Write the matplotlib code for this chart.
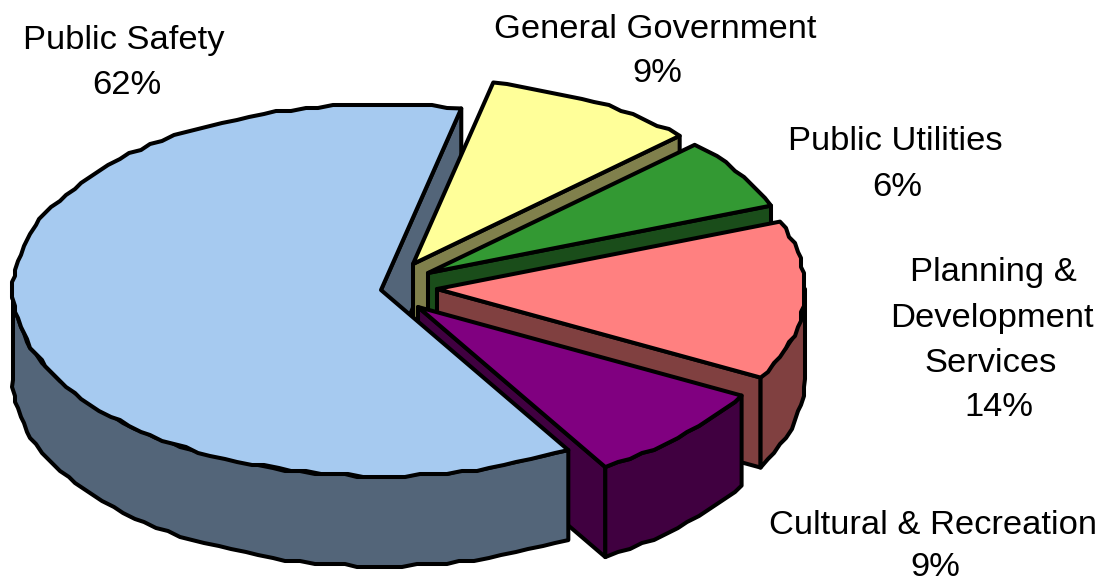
import numpy as np
import matplotlib
matplotlib.use("Agg")
import matplotlib.pyplot as plt

categories = ["Public Safety", "General Government", "Public Utilities",
              "Planning & Development Services", "Cultural & Recreation"]
shares = [62.0, 9.4, 6.2, 13.8, 8.6]
top_colors = ["#A6CAF0", "#FFFF99", "#339933", "#FF8080", "#800080"]
side_colors = ["#536579", "#80804C", "#1A4D1A", "#804040", "#400040"]

# центр пирога, радиусы эллипса и высота в пикселях
cx, cy = 381, 290
rx, ry = 368, 186
depth = 90
start_angle = 149.4  # градусы по часовой от севера
shift = [(0, 0), (32, -26), (47, -17), (56, -1), (37, 17)]
grid = 3  # ступеньки по дуге, как в оригинале
line = 2.9

fig = plt.figure(figsize=(11.05, 5.83), dpi=100)
ax = fig.add_axes([0, 0, 1, 1])
ax.set_xlim(0, 1105)
ax.set_ylim(583, 0)
ax.axis("off")


def arc(i, a0, a1, step=2.2):
    n = max(int(abs(a1 - a0) / step), 2)
    t = np.radians(np.linspace(a0, a1, n))
    x0 = cx + shift[i][0] + rx * np.sin(t)
    y0 = cy + shift[i][1] - ry * np.cos(t)
    x = np.round(x0 / grid) * grid
    y = np.round(y0 / grid) * grid
    x[[0, -1]] = x0[[0, -1]]
    y[[0, -1]] = y0[[0, -1]]
    return np.column_stack([x, y])


def fill(points, color):
    ax.fill(points[:, 0], points[:, 1], facecolor=color, edgecolor="black",
            linewidth=line, joinstyle="round")


def apex(i, down=0):
    return np.array([[cx + shift[i][0], cy + shift[i][1] + down]])


def edge_face(i, angle):
    # плоская грань вдоль радиуса, свисает вниз
    a = arc(i, angle, angle + 0.01)[:1]
    fill(np.vstack([apex(i), a, a + [0, depth], apex(i, depth)]), side_colors[i])


def outer_wall(i, a0, a1):
    top = arc(i, a0, a1)
    fill(np.vstack([top, top[::-1] + [0, depth]]), side_colors[i])


def top_face(i, a0, a1):
    fill(np.vstack([apex(i), arc(i, a0, a1)]), top_colors[i])


# углы срезов считаем из долей
ends = start_angle + np.cumsum(shares) * 3.6
starts = ends - np.array(shares) * 3.6

# грань синего сектора сзади, потом остальные от дальнего к ближнему
edge_face(0, ends[0] % 360)
for i in [1, 2, 3, 4]:
    a0, a1 = starts[i] % 360, (ends[i] - 1e-6) % 360
    edge_face(i, a1)
    if a1 > 90:
        outer_wall(i, max(a0, 90), a1)
    top_face(i, a0, a1)

# передняя стенка и верх большого сектора
outer_wall(0, starts[0], 270)
top_face(0, starts[0], ends[0])

font = {"family": ["Liberation Sans", "DejaVu Sans"], "size": 24.8,
        "ha": "center", "va": "center", "color": "black"}
labels = [("Public Safety", 124, 41), ("62%", 127, 86),
          ("General Government", 655, 30), ("9%", 657, 74),
          ("Public Utilities", 895, 141), ("6%", 897, 187),
          ("Planning &", 993, 272), ("Development", 992, 318),
          ("Services", 991, 363), ("14%", 999, 407),
          ("Cultural & Recreation", 933, 526), ("9%", 935, 567)]
for s, x, y in labels:
    ax.text(x, y, s, **font)

fig.savefig("out.png", dpi=100)
